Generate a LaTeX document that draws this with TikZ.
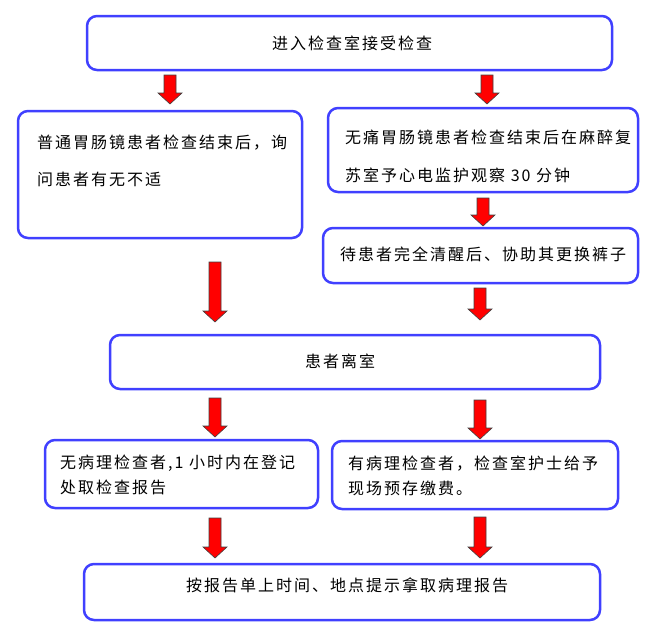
\documentclass[tikz,border=0pt]{standalone}
\usepackage{fontspec}
\setmainfont{Noto Sans CJK SC}[LetterSpace=12.5]
\definecolor{boxblue}{RGB}{64,64,255}
\tikzset{
  flowbox/.style={draw=boxblue, line width=2.5pt, rounded corners=10pt, fill=white, inner sep=0pt},
  txt/.style={font=\fontsize{16}{20}\selectfont, inner sep=0pt, align=left},
  barrow/.style={fill=red, draw=black!75, line width=0.6pt, line join=miter}
}
\newcommand{\blockarrow}[3]{%
  \draw[barrow] (#1-6,#2) -- (#1+6,#2) -- (#1+6,#3-11) -- (#1+12,#3-11) -- (#1,#3) -- (#1-12,#3-11) -- (#1-6,#3-11) -- cycle;}
\begin{document}
\begin{tikzpicture}[x=1pt,y=-1pt]
\useasboundingbox (0,0) rectangle (672,643);
% boxes
\node[flowbox, minimum width=525pt, minimum height=54pt] (start) at (349.5,43) {};
\node[flowbox, minimum width=284pt, minimum height=127pt] (boxA) at (160,174.5) {};
\node[flowbox, minimum width=310pt, minimum height=84pt] (boxB) at (483,150) {};
\node[flowbox, minimum width=315pt, minimum height=55pt] (boxC) at (480.5,255.5) {};
\node[flowbox, minimum width=490pt, minimum height=54pt] (boxD) at (355,362) {};
\node[flowbox, minimum width=273pt, minimum height=68pt] (boxE) at (181.5,474) {};
\node[flowbox, minimum width=286pt, minimum height=68pt] (boxF) at (475,475) {};
\node[flowbox, minimum width=516pt, minimum height=56pt] (boxG) at (342,592) {};
% texts
\node[txt] (tstart) at (352,43) {进入检查室接受检查};
\node[txt, anchor=north west, font=\fontsize{16}{37}\selectfont] (tA) at (37,135) {普通胃肠镜患者检查结束后，询\\问患者有无不适};
\node[txt, anchor=north west, font=\fontsize{16}{38}\selectfont] (tB) at (345,130) {无痛胃肠镜患者检查结束后在麻醉复\\苏室予心电监护观察 30 分钟};
\node[txt, anchor=west] (tC) at (340,254) {待患者完全清醒后、协助其更换裤子};
\node[txt] (tD) at (340,361) {患者离室};
\node[txt, anchor=north west, font=\fontsize{16}{25}\selectfont] (tE) at (60,455) {无病理检查者,1 小时内在登记\\处取检查报告};
\node[txt, anchor=north west, font=\fontsize{16}{25}\selectfont] (tF) at (348,456) {有病理检查者，检查室护士给予\\现场预存缴费。};
\node[txt] (tG) at (347,585) {按报告单上时间、地点提示拿取病理报告};
% arrows
\blockarrow{170}{75}{104}
\blockarrow{487}{75}{104}
\blockarrow{483}{198}{226}
\blockarrow{215}{262}{322}
\blockarrow{480}{288}{320}
\blockarrow{215}{398}{437}
\blockarrow{480}{400}{439}
\blockarrow{215}{518}{558}
\blockarrow{480}{517}{558}
\end{tikzpicture}
\end{document}
